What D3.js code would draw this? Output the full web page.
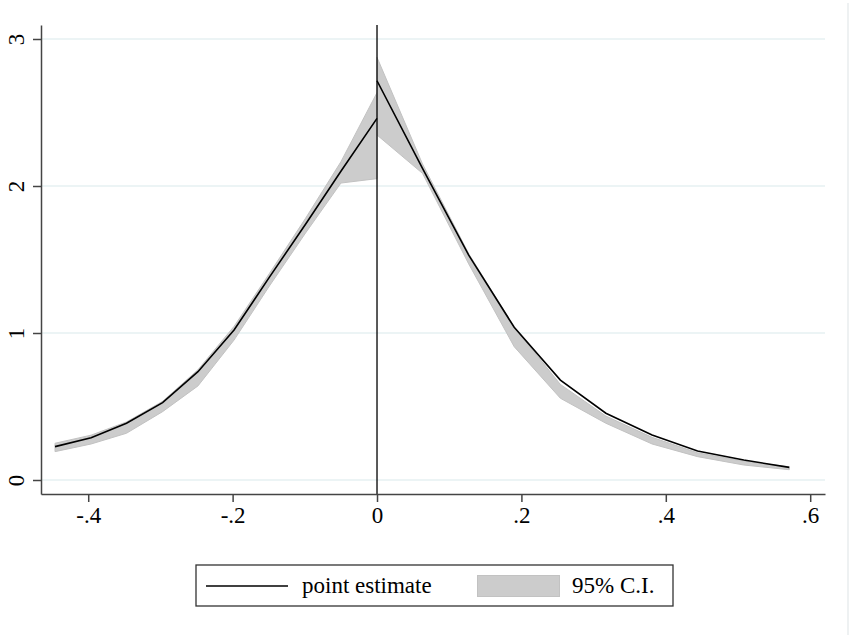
<!DOCTYPE html>
<html>
<head>
<meta charset="utf-8">
<script src="https://cdn.jsdelivr.net/npm/d3@7"></script>
<style>
  body { margin: 0; background: #fff; }
  text { font-family: 'Liberation Serif', 'DejaVu Serif', serif; fill: #000; }
</style>
</head>
<body>
<script>
// left of the cutoff
const xLeft = [-0.446, -0.396, -0.347, -0.297, -0.248, -0.198, -0.149, -0.099, -0.050, 0];
const estLeft = [0.227, 0.288, 0.386, 0.526, 0.737, 1.02, 1.38, 1.74, 2.10, 2.46];
const lowLeft = [0.193, 0.245, 0.318, 0.465, 0.64, 0.952, 1.32, 1.68, 2.02, 2.05];
const upLeft = [0.25, 0.305, 0.395, 0.535, 0.75, 1.045, 1.405, 1.78, 2.165, 2.635];

// right of the cutoff
const xRight = [0, 0.063, 0.127, 0.190, 0.254, 0.317, 0.381, 0.444, 0.508, 0.571];
const estRight = [2.716, 2.12, 1.53, 1.039, 0.68, 0.454, 0.306, 0.197, 0.136, 0.086];
const lowRight = [2.347, 2.086, 1.47, 0.907, 0.556, 0.386, 0.245, 0.159, 0.102, 0.07];
const upRight = [2.875, 2.15, 1.54, 1.04, 0.65, 0.435, 0.29, 0.185, 0.128, 0.09];

const xTicks = [-0.4, -0.2, 0, 0.2, 0.4, 0.6];
const yTicks = [0, 1, 2, 3];
const legendLabels = ['point estimate', '95% C.I.'];

const width = 851;
const height = 635;
const FONT = 23;

const svg = d3.select('body')
  .append('svg')
  .attr('width', width)
  .attr('height', height);

const x = d3.scaleLinear().domain([-0.4654, 0.6205]).range([41, 825]);
const y = d3.scaleLinear().domain([-0.0952, 3.0952]).range([494, 25]);

// stata style: .4, -.2, 0, 3
const fmt = d => (d < 0 ? '-' : '') + String(Math.abs(d)).replace(/^0\./, '.');

// outer frame edge on the right
svg.append('line')
  .attr('x1', 848).attr('x2', 848)
  .attr('y1', 3).attr('y2', height)
  .attr('stroke', '#e8ecee').attr('stroke-width', 1.5);

// grid
svg.append('g')
  .selectAll('line')
  .data(yTicks)
  .enter()
  .append('line')
  .attr('x1', x.range()[0]).attr('x2', x.range()[1])
  .attr('y1', d => y(d)).attr('y2', d => y(d))
  .attr('stroke', '#e6f0f2')
  .attr('stroke-width', 1.5);

// CI bands
const band = d3.area()
  .x(d => x(d.x))
  .y0(d => y(d.lo))
  .y1(d => y(d.hi));

const toRows = (xs, est, lo, hi) => xs.map((v, i) => ({ x: v, est: est[i], lo: lo[i], hi: hi[i] }));
const sides = [
  toRows(xLeft, estLeft, lowLeft, upLeft),
  toRows(xRight, estRight, lowRight, upRight)
];

svg.append('g')
  .selectAll('path')
  .data(sides)
  .enter()
  .append('path')
  .attr('d', band)
  .attr('fill', '#cccccc')
  .attr('stroke', '#c2c2c2')
  .attr('stroke-width', 1);

// cutoff line
svg.append('line')
  .attr('x1', x(0)).attr('x2', x(0))
  .attr('y1', y.range()[1]).attr('y2', y.range()[0])
  .attr('stroke', '#000')
  .attr('stroke-width', 1.3);

// point estimates
const line = d3.line()
  .x(d => x(d.x))
  .y(d => y(d.est));

svg.append('g')
  .selectAll('path')
  .data(sides)
  .enter()
  .append('path')
  .attr('d', line)
  .attr('fill', 'none')
  .attr('stroke', '#000')
  .attr('stroke-width', 1.6);

// axes
const xAxis = svg.append('g')
  .attr('transform', `translate(0,${ y.range()[0] })`)
  .call(d3.axisBottom(x).tickValues(xTicks).tickFormat(fmt).tickSize(8).tickSizeOuter(0));

const yAxis = svg.append('g')
  .attr('transform', `translate(${ x.range()[0] },0)`)
  .call(d3.axisLeft(y).tickValues(yTicks).tickFormat(fmt).tickSize(8).tickSizeOuter(0));

[xAxis, yAxis].forEach(g => {
  g.select('.domain').attr('stroke', '#444').attr('stroke-width', 1.5);
  g.selectAll('.tick line').attr('stroke', '#444').attr('stroke-width', 1.5);
  g.selectAll('.tick text')
    .attr('fill', '#000')
    .style('font-family', "'Liberation Serif', serif")
    .style('font-size', `${ FONT }px`);
});

xAxis.selectAll('.tick text').attr('y', 13);

yAxis.selectAll('.tick text')
  .attr('x', null).attr('dy', null)
  .attr('text-anchor', 'middle')
  .attr('transform', 'translate(-17,0) rotate(-90)');

// legend
const legend = svg.append('g');

legend.append('rect')
  .attr('x', 196).attr('y', 565)
  .attr('width', 477).attr('height', 41)
  .attr('fill', '#fff')
  .attr('stroke', '#333')
  .attr('stroke-width', 1.3);

legend.append('line')
  .attr('x1', 206).attr('x2', 288)
  .attr('y1', 586).attr('y2', 586)
  .attr('stroke', '#000').attr('stroke-width', 1.6);

legend.append('text')
  .attr('x', 302).attr('y', 593)
  .style('font-size', `${ FONT }px`)
  .text(legendLabels[0]);

legend.append('rect')
  .attr('x', 477.5).attr('y', 575.5)
  .attr('width', 82).attr('height', 21)
  .attr('fill', '#cccccc')
  .attr('stroke', '#c2c2c2')
  .attr('stroke-width', 1);

legend.append('text')
  .attr('x', 572).attr('y', 593)
  .style('font-size', `${ FONT }px`)
  .text(legendLabels[1]);
</script>
</body>
</html>
